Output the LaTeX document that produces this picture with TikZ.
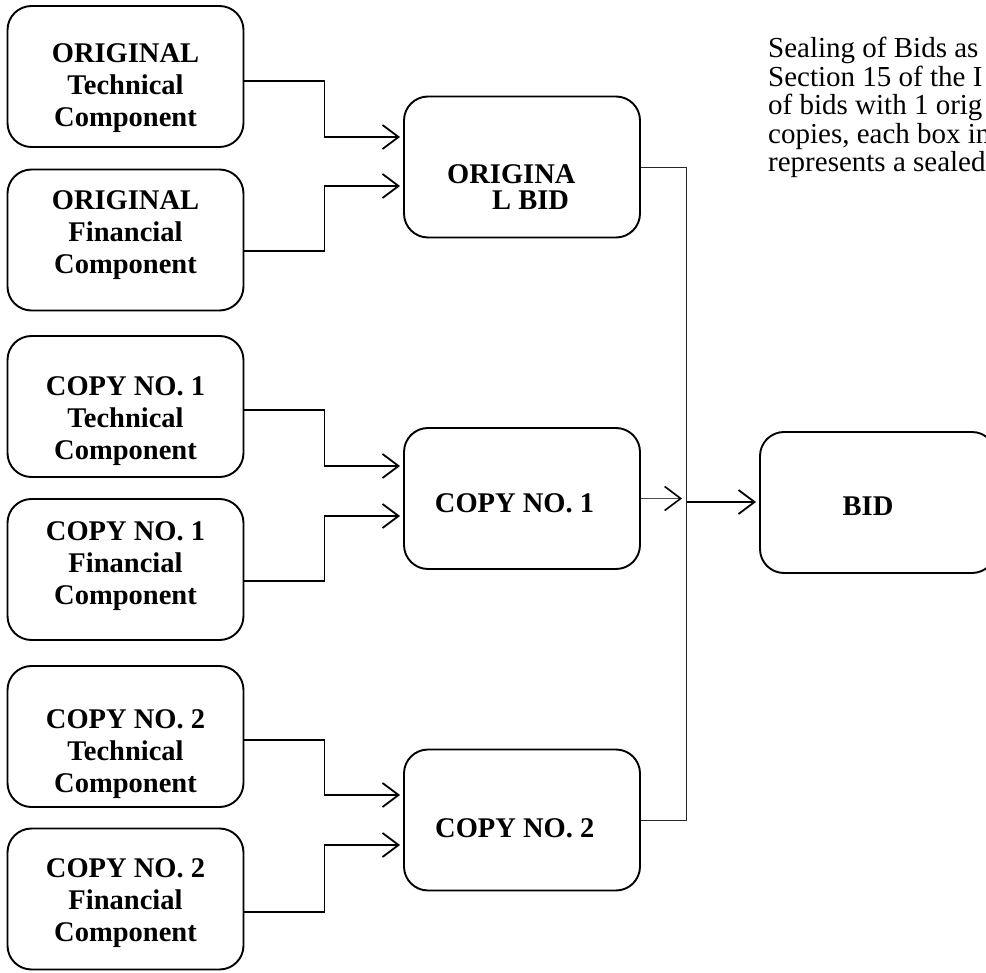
\documentclass[tikz,border=0pt]{standalone}
\usepackage{fontspec}
\setmainfont{Liberation Serif}
\usetikzlibrary{arrows.meta,calc}
\begin{document}
\begin{tikzpicture}[x=1pt,y=-1pt,
  box/.style={draw, line width=1.9pt, rounded corners=24pt, minimum width=236pt, minimum height=141pt, inner sep=0pt},
  lbl/.style={font=\fontsize{28.5}{32}\selectfont\bfseries, align=center, inner sep=0pt, anchor=north},
  conn/.style={line width=1.8pt, -{Straight Barb[length=16pt,width=24pt]}, shorten >=3pt},
  thinconn/.style={line width=1.2pt, draw=black!70, -{Straight Barb[length=16pt,width=24pt,line width=1.6pt,color=black]}, shorten >=4.5pt},
  bus/.style={line width=0.9pt, draw=black!85}]
\useasboundingbox (0,0) rectangle (986,973);
\clip (0,0) rectangle (986,973);
% left boxes
\node[box] (b1) at (125.5,76.5) {};
\node[box] (b2) at (125.5,240) {};
\node[box] (b3) at (125.5,406.5) {};
\node[box] (b4) at (125.5,569.5) {};
\node[box] (b5) at (125.5,736.5) {};
\node[box] (b6) at (125.5,899) {};
% middle boxes
\node[box] (ob) at (522,167) {};
\node[box] (c1) at (522,498.5) {};
\node[box] (c2) at (522,820) {};
\node[box] (bid) at (878,502.5) {};
% texts
\node[lbl] (t1) at (125.5,43) {ORIGINAL\\Technical\\Component};
\node[lbl] (t2) at (125.5,190.7) {ORIGINAL\\Financial\\Component};
\node[lbl] (t3) at (125.5,376.4) {COPY NO. 1\\Technical\\Component};
\node[lbl] (t4) at (125.5,521.4) {COPY NO. 1\\Financial\\Component};
\node[lbl] (t5) at (125.5,709.7) {COPY NO. 2\\Technical\\Component};
\node[lbl] (t6) at (125.5,858) {COPY NO. 2\\Financial\\Component};
\node[lbl, anchor=north west, align=left, font=\fontsize{28.5}{26}\selectfont\bfseries] (tob) at (447,164) {ORIGINA\\\hspace*{45pt}L BID};
\node[lbl] (tc1) at (514.5,493) {COPY NO. 1};
\node[lbl] (tc2) at (514.8,818) {COPY NO. 2};
\node[lbl] (tbid) at (868,497) {BID};
\node[anchor=north west, align=left, inner sep=0pt, font=\fontsize{29}{28.5}\selectfont] (note) at (768,37)
  {Sealing of Bids as\\Section 15 of the I\\of bids with 1 orig\\copies, each box in\\represents a sealed};
% connectors left -> middle
\draw[conn] ([yshift=-4.5pt]b1.east) -- ++(80,0) |- ([yshift=30pt]ob.west);
\draw[conn] ([yshift=-11pt]b2.east) -- ++(80,0) |- ([yshift=-19pt]ob.west);
\draw[conn] ([yshift=-3.5pt]b3.east) -- ++(80,0) |- ([yshift=32.5pt]c1.west);
\draw[conn] ([yshift=-11.5pt]b4.east) -- ++(80,0) |- ([yshift=-17.5pt]c1.west);
\draw[conn] ([yshift=-3.5pt]b5.east) -- ++(80,0) |- ([yshift=25pt]c2.west);
\draw[conn] ([yshift=-13pt]b6.east) -- ++(80,0) |- ([yshift=-25pt]c2.west);
% right side bus
\coordinate (jb) at (686.5,820);
\coordinate (jm) at (686.5,502);
\draw[bus] (ob.east) -| (jb) -- (c2.east);
\draw[thinconn] (c1.east) -- (c1.east -| jm);
\draw[conn] (jm) -- (jm -| bid.west);
\end{tikzpicture}
\end{document}
